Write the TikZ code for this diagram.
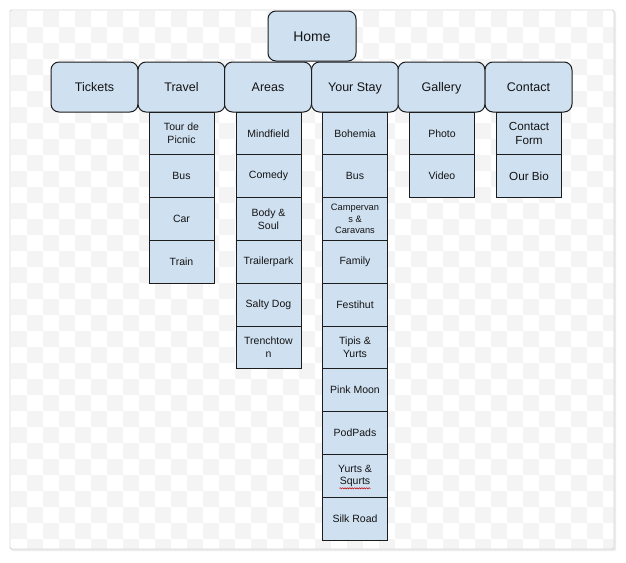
\documentclass[tikz,border=0pt]{standalone}
\usepackage{fontspec}
\setmainfont{Liberation Sans}
\usetikzlibrary{decorations.pathmorphing,calc}
\definecolor{boxfill}{RGB}{207,224,241}
\definecolor{boxline}{RGB}{28,28,28}
\definecolor{checker}{RGB}{244,244,244}
\definecolor{framecol}{RGB}{216,216,216}
\definecolor{shadowcol}{RGB}{236,236,236}
\begin{document}
\begin{tikzpicture}[x=1pt,y=-1pt,
  topbox/.style={draw=boxline, fill=boxfill, line width=1pt, rounded corners=8pt,
    minimum width=87pt, minimum height=50pt, inner sep=0pt,
    text height=9pt, text depth=0pt,
    font=\fontsize{12.5}{15}\selectfont, text=black!92},
  subbox/.style={draw=boxline, fill=boxfill, line width=1pt,
    minimum width=65pt, minimum height=42.8pt, inner sep=0pt, align=center,
    font=\fontsize{10.5}{12.5}\selectfont, text=black!92},
  smalltxt/.style={font=\fontsize{9.3}{11.3}\selectfont},
  largetxt/.style={font=\fontsize{11.7}{13.5}\selectfont},
  spell/.style={draw=red!75!black, line width=0.5pt, decorate,
    decoration={snake, amplitude=0.6pt, segment length=2.4pt}}
]
\useasboundingbox (0,0) rectangle (626,562);
\fill[white] (0,0) rectangle (626,562);
% frame shadow and frame
\fill[shadowcol, rounded corners=2pt] (11,11) rectangle (616,551);
\fill[white, rounded corners=2pt] (10,10) rectangle (614,549);
\begin{scope}
  \clip (10.5,10.5) rectangle (613.5,548.5);
  \foreach \i in {0,...,37} {
    \foreach \j in {0,...,33} {
      \pgfmathtruncatemacro\chk{mod(\i+\j,2)}
      \ifnum\chk=0
        \fill[checker] ({11+16*\i},{11+16*\j}) rectangle ++(16,16);
      \fi
    }
  }
\end{scope}
\draw[framecol, line width=0.9pt, rounded corners=2pt] (10,10) rectangle (614,549);

% home
\node[topbox, minimum width=88pt, text height=10pt, font=\fontsize{14}{16}\selectfont] (home) at (312,36) {Home};
% top row
\node[topbox] (tickets) at (94.5,87) {Tickets};
\node[topbox] (travel) at (181.5,87) {Travel};
\node[topbox] (areas) at (268,87) {Areas};
\node[topbox] (stay) at (355,87) {Your Stay};
\node[topbox] (gallery) at (441.5,87) {Gallery};
\node[topbox] (contact) at (528.5,87) {Contact};

% travel column
\node[subbox] (t1) at (181.5,133.4) {Tour de\\Picnic};
\node[subbox] (t2) at (181.5,176.2) {Bus};
\node[subbox] (t3) at (181.5,219.0) {Car};
\node[subbox] (t4) at (181.5,261.8) {Train};

% areas column
\node[subbox] (a1) at (268.5,133.4) {Mindfield};
\node[subbox] (a2) at (268.5,176.2) {Comedy};
\node[subbox] (a3) at (268.5,219.0) {Body \&\\Soul};
\node[subbox] (a4) at (268.5,261.8) {Trailerpark};
\node[subbox] (a5) at (268.5,304.6) {Salty Dog};
\node[subbox] (a6) at (268.5,347.4) {Trenchtow\\n};

% your stay column
\node[subbox] (y1) at (355,133.4) {Bohemia};
\node[subbox] (y2) at (355,176.2) {Bus};
\node[subbox, smalltxt] (y3) at (355,219.0) {Campervan\\s \&\\Caravans};
\node[subbox] (y4) at (355,261.8) {Family};
\node[subbox] (y5) at (355,304.6) {Festihut};
\node[subbox] (y6) at (355,347.4) {Tipis \&\\Yurts};
\node[subbox] (y7) at (355,390.2) {Pink Moon};
\node[subbox] (y8) at (355,433.0) {PodPads};
\node[subbox] (y9) at (355,475.8) {Yurts \&\\Squrts};
\node[subbox] (y10) at (355,518.6) {Silk Road};
\draw[spell] ($(y9.center)+(-15.5,12.5)$) -- ($(y9.center)+(15.5,12.5)$);

% gallery column
\node[subbox] (g1) at (442,133.4) {Photo};
\node[subbox] (g2) at (442,176.2) {Video};

% contact column
\node[subbox, largetxt] (c1) at (529,133.4) {Contact\\Form};
\node[subbox, largetxt] (c2) at (529,176.2) {Our Bio};
\end{tikzpicture}
\end{document}
